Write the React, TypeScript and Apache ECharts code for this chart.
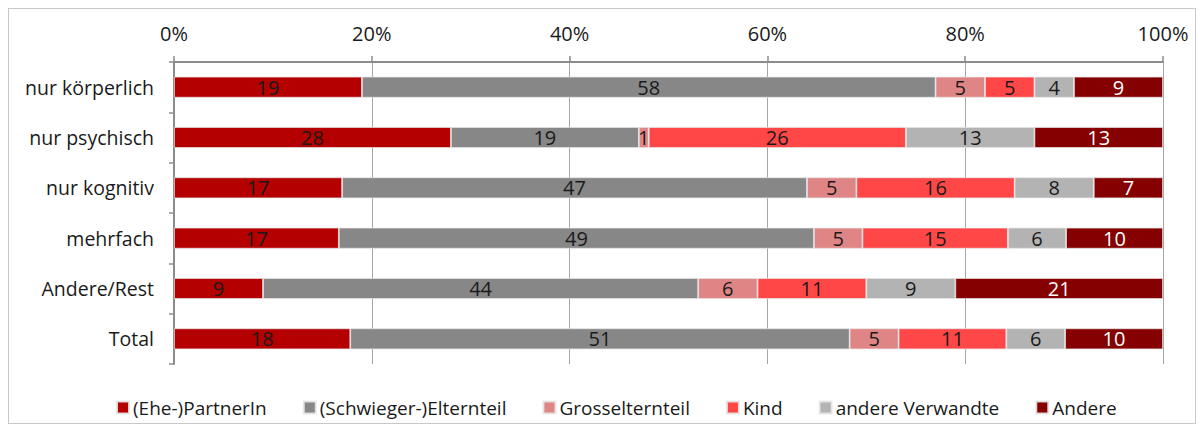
import React, { useEffect, useRef } from "react";
import * as echarts from "echarts";

const categories = ["nur körperlich", "nur psychisch", "nur kognitiv", "mehrfach", "Andere/Rest", "Total"];

const partnerIn = [19, 28, 17, 17, 9, 18];
const elternteil = [58, 19, 47, 49, 44, 51];
const grosselternteil = [5, 1, 5, 5, 6, 5];
const kind = [5, 26, 16, 15, 11, 11];
const andereVerwandte = [4, 13, 8, 6, 9, 6];
const andere = [9, 13, 7, 10, 21, 10];

const xTicks = [0, 20, 40, 60, 80, 100];

const seriesDefs = [
  { name: "(Ehe-)PartnerIn", values: partnerIn, color: "#b40000", text: "#1a1a1a" },
  { name: "(Schwieger-)Elternteil", values: elternteil, color: "#878787", text: "#1a1a1a" },
  { name: "Grosselternteil", values: grosselternteil, color: "#e08585", text: "#1a1a1a" },
  { name: "Kind", values: kind, color: "#ff4747", text: "#1a1a1a" },
  { name: "andere Verwandte", values: andereVerwandte, color: "#b3b3b3", text: "#1a1a1a" },
  { name: "Andere", values: andere, color: "#850000", text: "#ffffff" },
];

const FONT = "Open Sans";

export default function App() {
  const ref = useRef<HTMLDivElement>(null);

  useEffect(() => {
    if (!ref.current) return;
    const chart = echarts.init(ref.current, undefined, { renderer: "svg" });

    // each row is drawn as shares of its own total (100% stacked bars)
    const rowTotals = categories.map((_, i) =>
      seriesDefs.reduce((s, d) => s + d.values[i], 0)
    );

    chart.setOption({
      animation: false,
      textStyle: { fontFamily: FONT },
      grid: { left: 165, right: 32, top: 53, bottom: 59 },
      legend: {
        bottom: 1,
        left: 102,
        itemWidth: 12,
        itemHeight: 12,
        itemGap: 36,
        icon: "rect",
        textStyle: { fontFamily: FONT, fontSize: 19, color: "#1a1a1a", padding: [0, 0, 0, -1] },
        data: seriesDefs.map((d) => d.name),
      },
      xAxis: {
        type: "value",
        position: "top",
        min: xTicks[0],
        max: xTicks[xTicks.length - 1],
        interval: xTicks[1] - xTicks[0],
        axisLine: { show: true, lineStyle: { color: "#8c8c8c", width: 2 } },
        axisTick: { show: true, length: 6, lineStyle: { color: "#8c8c8c", width: 1.5 } },
        axisLabel: {
          formatter: "{value}%",
          fontFamily: FONT,
          fontSize: 20,
          color: "#1a1a1a",
          margin: 19,
        },
        splitLine: { show: true, lineStyle: { color: "#a6a6a6", width: 1 } },
      },
      yAxis: {
        type: "category",
        inverse: true,
        data: categories,
        axisLine: { show: true, lineStyle: { color: "#8c8c8c", width: 2 } },
        axisTick: { show: true, length: 5, lineStyle: { color: "#8c8c8c", width: 1.5 } },
        axisLabel: { fontFamily: FONT, fontSize: 19.5, color: "#1a1a1a", margin: 20 },
      },
      series: seriesDefs.map((d) => ({
        name: d.name,
        type: "bar",
        stack: "total",
        barWidth: 21,
        itemStyle: { color: d.color, borderColor: "rgba(230,230,230,0.9)", borderWidth: 0.8 },
        label: {
          show: true,
          position: "inside",
          fontFamily: FONT,
          fontSize: 20,
          color: d.text,
          formatter: (p: any) => String(d.values[p.dataIndex]),
        },
        data: d.values.map((v, i) => (v / rowTotals[i]) * 100),
      })),
    });

    return () => chart.dispose();
  }, []);

  return (
    <div style={{ width: 1186, height: 414, border: "1px solid #c8c8c8" }}>
      <div ref={ref} style={{ width: 1186, height: 414 }} />
    </div>
  );
}
